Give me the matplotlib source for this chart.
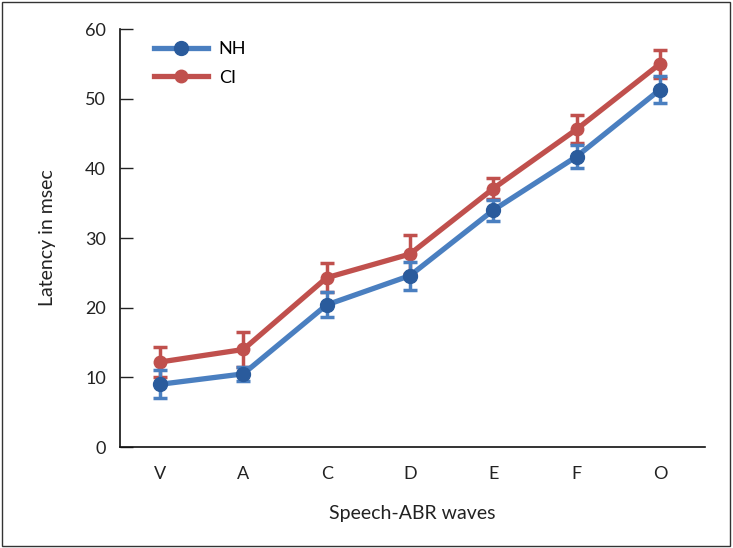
import matplotlib
matplotlib.use("Agg")
import matplotlib.pyplot as plt
from matplotlib.patches import Rectangle
from matplotlib.lines import Line2D

waves = ["V", "A", "C", "D", "E", "F", "O"]
nh_mean = [9.0, 10.5, 20.4, 24.6, 34.0, 41.7, 51.3]
nh_err = [2.0, 1.0, 1.8, 2.0, 1.5, 1.7, 1.9]
ci_mean = [12.2, 14.0, 24.3, 27.7, 37.1, 45.6, 55.0]
ci_err = [2.2, 2.5, 2.1, 2.8, 1.5, 2.0, 2.0]

plt.rcParams['font.family'] = ['Lato', 'DejaVu Sans']

fig = plt.figure(figsize=(7.33, 5.48), dpi=100)
ax = fig.add_axes([0.1637, 0.1843, 0.798, 0.7627])

x = list(range(len(waves)))
nh_line = "#4a7fc0"
nh_mark = "#2a5b9c"
ci_line = "#c0504d"

ax.errorbar(x, nh_mean, yerr=nh_err, color=nh_line, lw=3.8, marker='o', ms=10,
            mfc=nh_mark, mec=nh_mark, elinewidth=2.5, capsize=5, capthick=2.5,
            zorder=3)
ax.errorbar(x, ci_mean, yerr=ci_err, color=ci_line, lw=3.8, marker='o', ms=9,
            mfc=ci_line, mec=ci_line, elinewidth=2.5, capsize=5, capthick=2.5,
            zorder=2)

ax.set_ylim(0, 60)
ax.set_xlim(-0.48, 6.54)
ax.set_xticks(x)
ax.set_xticklabels(waves)
ax.set_yticks(range(0, 61, 10))
ax.tick_params(axis='y', direction='in', length=9, width=1, labelsize=13, pad=10, colors='#222222')
ax.tick_params(axis='x', length=0, labelsize=13, pad=14, colors='#222222')
for s in ['top', 'right']:
    ax.spines[s].set_visible(False)
for s in ['left', 'bottom']:
    ax.spines[s].set_linewidth(1.2)
    ax.spines[s].set_color('#111111')

ax.set_xlabel("Speech-ABR waves", fontsize=14, labelpad=16, color='#222222')
ax.set_ylabel("Latency in msec", fontsize=14, labelpad=21, color='#222222')

handles = [
    Line2D([], [], color=nh_line, lw=3.8, marker='o', ms=10, mfc=nh_mark, mec=nh_mark),
    Line2D([], [], color=ci_line, lw=3.8, marker='o', ms=9, mfc=ci_line, mec=ci_line),
]
leg = ax.legend(handles, ["NH", "CI"], loc='upper left', bbox_to_anchor=(0.03, 1.01),
                frameon=False, fontsize=13, handlelength=3.0, labelspacing=0.7,
                handletextpad=0.6)

fig.patches.append(Rectangle((0.003, 0.004), 0.993, 0.992, transform=fig.transFigure,
                             fill=False, edgecolor='#333333', lw=1))

fig.savefig("out.png", dpi=100)
